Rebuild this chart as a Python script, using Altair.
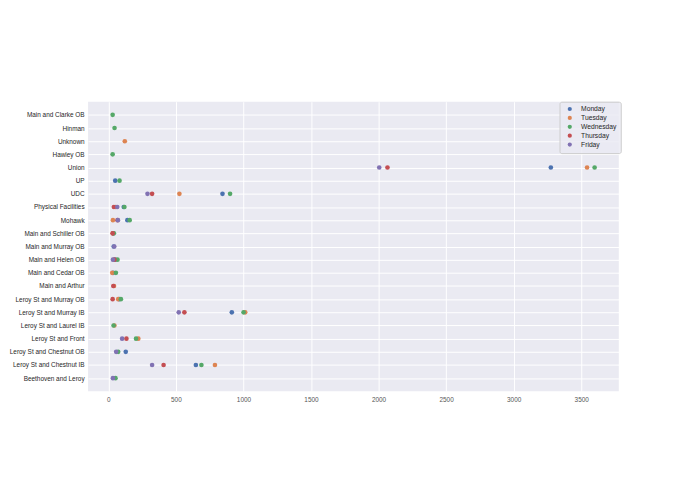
import altair as alt
import pandas as pd

stations = [
    "Main and Clarke OB", "Hinman", "Unknown", "Hawley OB", "Union", "UP", "UDC",
    "Physical Facilities", "Mohawk", "Main and Schiller OB", "Main and Murray OB",
    "Main and Helen OB", "Main and Cedar OB", "Main and Arthur",
    "Leroy St and Murray OB", "Leroy St and Murray IB", "Leroy St and Laurel IB",
    "Leroy St and Front", "Leroy St and Chestnut OB", "Leroy St and Chestnut IB",
    "Beethoven and Leroy",
]
days = ["Monday", "Tuesday", "Wednesday", "Thursday", "Friday"]
monday = [None, None, None, None, 3275, 51, 845, 114, 141, 36, 40, 50, 35, None, 80, 914, None, None, 129, 648, None]
tuesday = [None, None, 122, None, 3543, None, 526, 55, 34, 33, None, None, 29, 42, 73, 1013, 45, 222, None, 789, None]
wednesday = [32, 46, None, 32, 3599, 83, 901, 119, 158, 41, None, 68, 56, None, 93, 1001, 39, 205, 73, 689, 53]
thursday = [None, None, None, None, 2066, None, 324, 41, 68, 32, None, 45, None, 37, 32, 563, None, 134, None, 409, None]
friday = [None, None, None, None, 2005, None, 290, 66, 71, None, 44, 34, None, None, None, 521, None, 102, 58, 324, 34]
colors = ["#4c72b0", "#dd8452", "#55a868", "#c44e52", "#8172b3"]
x_ticks = [0, 500, 1000, 1500, 2000, 2500, 3000, 3500]

rows = []
for day, vals in zip(days, [monday, tuesday, wednesday, thursday, friday]):
    for s, v in zip(stations, vals):
        if v is not None:
            rows.append({"station": s, "day": day, "count": v})
df = pd.DataFrame(rows)

chart = alt.Chart(df).mark_point(filled=True, opacity=1, size=22, strokeWidth=0).encode(
    x=alt.X("count:Q", title=None,
            scale=alt.Scale(domain=[-150, 3778], nice=False, zero=False),
            axis=alt.Axis(values=x_ticks, format="d", labelPadding=5, labelColor="#555555")),
    y=alt.Y("station:N", title=None, sort=stations,
            scale=alt.Scale(type="point", padding=1),
            axis=alt.Axis(labelPadding=4)),
    color=alt.Color("day:N", title=None,
                    scale=alt.Scale(domain=days, range=colors),
                    legend=alt.Legend(orient="none", legendX=477, legendY=0,
                                      symbolType="circle", symbolSize=18,
                                      symbolStrokeWidth=0, symbolOpacity=1,
                                      labelFontSize=6.8, labelFont="Liberation Sans",
                                      labelColor="#262626",
                                      padding=4, rowPadding=1,
                                      symbolOffset=3, labelOffset=8,
                                      fillColor="rgba(234,234,242,0.8)",
                                      strokeColor="#cccccc", cornerRadius=2)),
).properties(
    width=537, height=293,
    autosize=alt.AutoSizeParams(type="none"),
    padding={"left": 81, "top": 92, "right": 69, "bottom": 93},
).configure_view(
    fill="#EAEAF2", stroke=None
).configure_axis(
    grid=True, gridColor="white", gridWidth=1, domain=False, ticks=False,
    labelFont="Liberation Sans", labelFontSize=6.5, labelColor="#262626",
)

chart.save("out.html", embed_options={"renderer": "svg", "actions": False})
